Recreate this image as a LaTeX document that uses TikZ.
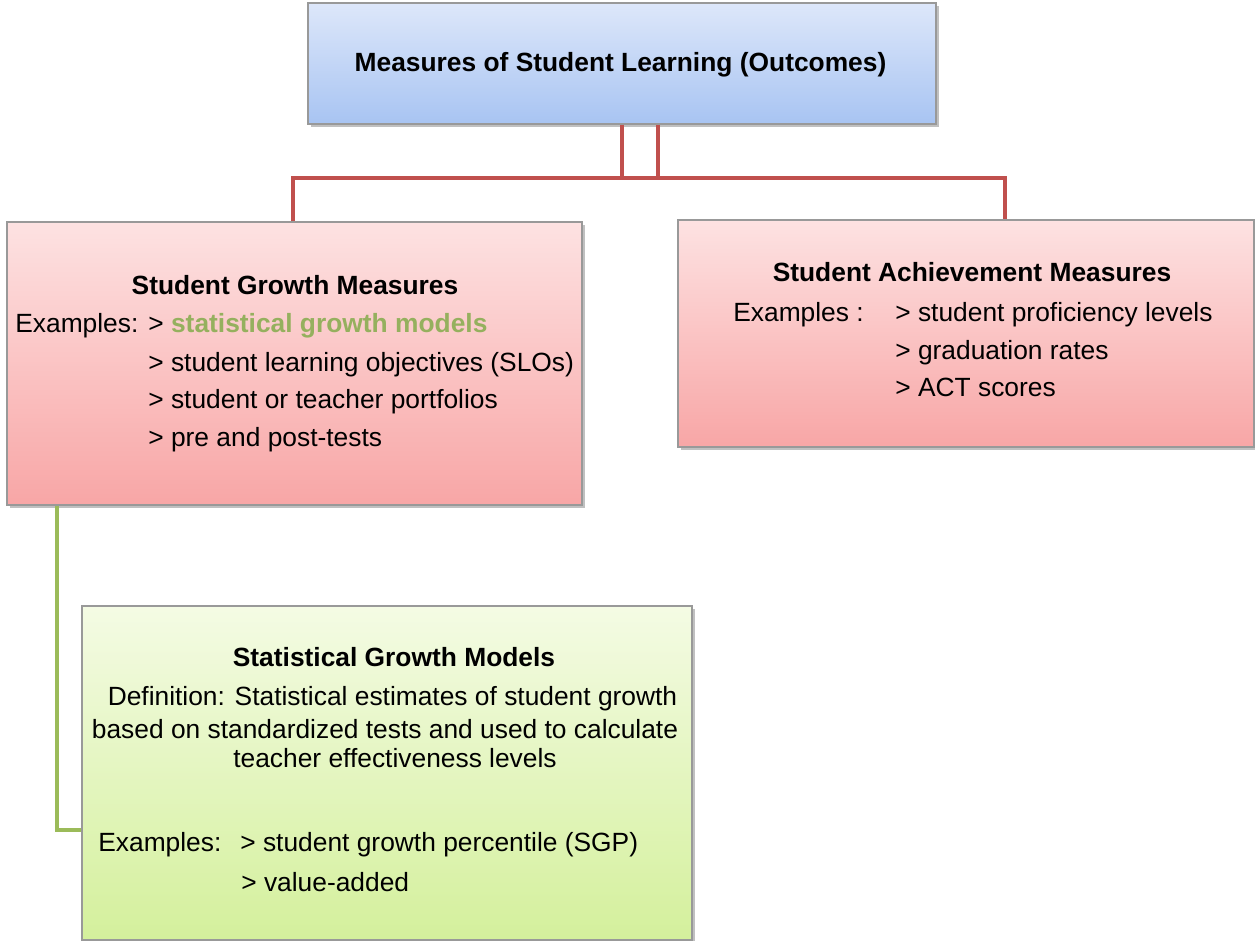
\documentclass[tikz,border=0pt]{standalone}
\usepackage{fontspec}
\setmainfont{Liberation Sans}
\usetikzlibrary{shadows}
\definecolor{bluetop}{HTML}{DDE7FA}
\definecolor{bluebot}{HTML}{A8C4F2}
\definecolor{pinktop}{HTML}{FDE2E2}
\definecolor{pinkbot}{HTML}{F8A6A6}
\definecolor{greentop}{HTML}{F4FBE4}
\definecolor{greenbot}{HTML}{D4F09C}
\definecolor{linkred}{HTML}{C0504D}
\definecolor{linkgreen}{HTML}{9BBB59}
\definecolor{textgreen}{HTML}{95B05E}
\begin{document}
\begin{tikzpicture}
        % Define block styles
        \tikzset{
          box/.style = {rectangle, draw=black!40, line width=0.6pt, inner sep=0pt,
                        drop shadow={shadow xshift=0.05cm, shadow yshift=-0.06cm, opacity=0.45, fill=black!55}},
          bluebox/.style = {box, top color=bluetop, bottom color=bluebot},
          pinkbox/.style = {box, top color=pinktop, bottom color=pinkbot},
          greenbox/.style = {box, top color=greentop, bottom color=greenbot},
          header/.style = {inner sep=0pt, anchor=base, font=\fontsize{15}{18}\selectfont\bfseries},
          entry/.style = {inner sep=0pt, anchor=base west, font=\fontsize{15}{18}\selectfont},
          centry/.style = {entry, anchor=base},
          redlink/.style = {draw=linkred, line width=2.2pt},
          greenlink/.style = {draw=linkgreen, line width=2.2pt}
        }
        \useasboundingbox (0,0) rectangle (25.1,18.82);

        % Place boxes
        \node [bluebox, minimum width=12.56cm, minimum height=2.42cm] (top) at (12.44,17.55) {};
        \node [pinkbox, minimum width=11.5cm, minimum height=5.66cm] (growth) at (5.89,11.55) {};
        \node [pinkbox, minimum width=11.52cm, minimum height=4.54cm] (achieve) at (19.32,12.15) {};
        \node [greenbox, minimum width=12.2cm, minimum height=6.68cm] (models) at (7.74,3.36) {};

        % Connectors
        \coordinate (busA) at (12.44,15.26);
        \coordinate (busB) at (13.16,15.26);
        \coordinate (busL) at (5.86,15.26);
        \coordinate (busR) at (20.1,15.26);
        \coordinate (bend) at (1.14,2.22);
        \draw [redlink] (busA |- top.south) -- (busA);
        \draw [redlink] (busB |- top.south) -- (busB);
        \draw [redlink] (busL |- growth.north) -- (busL) -- (busR) -- (busR |- achieve.north);
        \draw [greenlink] (bend |- growth.south) -- (bend) -- (bend -| models.west);

        % Texts
        \node [header] (title) at (12.41,17.38) {Measures of Student Learning (Outcomes)};

        \node [header] (growthhead) at (5.9,12.92) {Student Growth Measures};
        \node [entry] (growthex) at (0.3,12.16) {Examples:};
        \node [entry] (growth1) at (2.96,12.16) {> \textcolor{textgreen}{\bfseries statistical growth models}};
        \node [entry] (growth2) at (2.96,11.38) {> student learning objectives (SLOs)};
        \node [entry] (growth3) at (2.96,10.64) {> student or teacher portfolios};
        \node [entry] (growth4) at (2.96,9.88) {> pre and post-tests};

        \node [header] (achievehead) at (19.44,13.18) {Student Achievement Measures};
        \node [entry] (achieveex) at (14.66,12.38) {Examples :};
        \node [entry] (achieve1) at (17.9,12.38) {> student proficiency levels};
        \node [entry] (achieve2) at (17.9,11.62) {> graduation rates};
        \node [entry] (achieve3) at (17.9,10.88) {> ACT scores};

        \node [header] (modelshead) at (7.88,5.48) {Statistical Growth Models};
        \node [centry] (def1) at (7.85,4.70) {Definition: Statistical estimates of student growth};
        \node [centry] (def2) at (7.7,4.04) {based on standardized tests and used to calculate};
        \node [centry] (def3) at (7.9,3.46) {teacher effectiveness levels};
        \node [entry] (modelsex) at (1.96,1.78) {Examples:};
        \node [entry] (models1) at (4.8,1.78) {> student growth percentile (SGP)};
        \node [entry] (models2) at (4.82,0.98) {> value-added};
\end{tikzpicture}
\end{document}
